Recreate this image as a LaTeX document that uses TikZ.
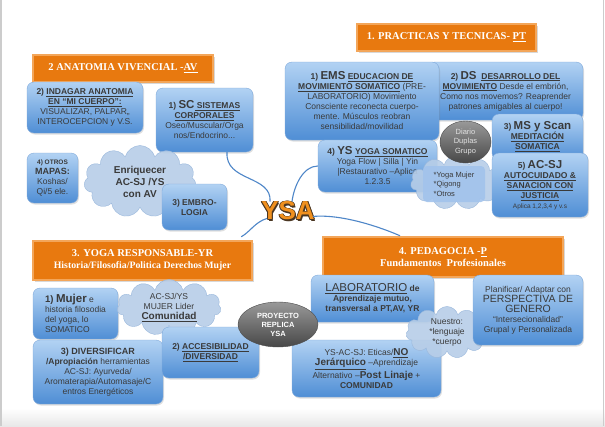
\documentclass[tikz,border=0pt]{standalone}
\usepackage{fontspec}
\setmainfont{Liberation Serif}
\setsansfont{Liberation Sans}
\usetikzlibrary{shapes.geometric,shapes.symbols,shadows}

\definecolor{boxtop}{HTML}{B2D2F3}
\definecolor{boxbot}{HTML}{4F8ED5}
\definecolor{boxedge}{HTML}{80AADB}
\definecolor{txtgray}{HTML}{3A3A3A}
\definecolor{hdrorange}{HTML}{E8790F}
\definecolor{hdrlight}{HTML}{F3A65A}
\definecolor{cloudfill}{HTML}{B8CEE8}
\definecolor{cloudedge}{HTML}{9AB8DC}
\definecolor{listblue}{HTML}{A2C3EC}
\definecolor{linkblue}{HTML}{4E86C8}
\definecolor{ysaorange}{HTML}{F0901E}
\definecolor{ysadark}{HTML}{4A3622}

\newcommand{\undl}[1]{\underline{#1}}
\newcommand{\bigtx}[1]{{\fontsize{11.5}{12}\selectfont\bfseries #1}}
\newcommand{\capbf}[1]{{\bfseries #1}}

\tikzset{
  blubox/.style={rectangle, rounded corners=7pt, top color=boxtop, bottom color=boxbot,
    draw=boxedge, line width=.4pt, text=txtgray, font=\sffamily\fontsize{8.5}{10}\selectfont,
    align=center, inner sep=1pt, drop shadow={opacity=.25,shadow xshift=1pt,shadow yshift=-1.5pt}},
  hdrbox/.style={rectangle, fill=hdrorange, draw=hdrlight, line width=2.5pt, text=white,
    font=\rmfamily\bfseries\fontsize{10.5}{12}\selectfont, align=center, inner sep=1pt,
    drop shadow={opacity=.3,shadow xshift=1.5pt,shadow yshift=-1.5pt}},
  puff/.style={cloud, cloud puffs=11, cloud ignores aspect, fill=cloudfill, draw=cloudedge, fill opacity=.9,
    text opacity=1, text=txtgray, font=\sffamily\fontsize{8.5}{10}\selectfont, align=center, inner sep=0pt},
  grayoval/.style={ellipse, top color=black!40, bottom color=black!72, draw=black!70, text=white,
    font=\sffamily\bfseries\fontsize{7.5}{9}\selectfont, align=center, inner sep=0pt},
  ysatxt/.style={inner sep=0pt, font=\sffamily\bfseries\fontsize{26}{26}\selectfont},
  link/.style={draw=linkblue, line width=1.1pt}
}

\begin{document}
\begin{tikzpicture}[x=1pt,y=-1pt]
\useasboundingbox (0,0) rectangle (605,426);

%Page
\fill[white] (0,0) rectangle (605,426);
\shade[top color=white, bottom color=black!9] (0,408) rectangle (605,426);
\draw[black!20, line width=1.5pt] (1,0) -- (1,426);
\draw[black!20, line width=1.5pt] (603.5,0) -- (603.5,426);

% Headers
\node[hdrbox, minimum width=179pt, minimum height=27pt] (hpt) at (446.5,37.5) {1. PRACTICAS Y TECNICAS- \undl{PT}};
\node[hdrbox, minimum width=180pt, minimum height=27pt] (hav) at (123,68.5) {2 ANATOMIA VIVENCIAL -\undl{AV}};
\node[hdrbox, minimum width=219pt, minimum height=39pt] (hyr) at (142.5,260.5) {3. YOGA RESPONSABLE-YR\\{\fontsize{9.8}{12}\selectfont Historia/Filosofia/Politica Derechos Mujer}};
\node[hdrbox, minimum width=240pt, minimum height=40pt] (hp) at (443,257) {4. PEDAGOCIA -\undl{P}\\Fundamentos\ \ Profesionales};

%Practicas y tecnicas
\node[blubox, minimum width=155pt, minimum height=58pt] (pt2) at (505.5,91) {\capbf{2)} \bigtx{DS}\ \ \capbf{\undl{DESARROLLO DEL}}\\\capbf{\undl{MOVIMIENTO}} Desde el embrión,\\Como nos movemos? Reaprender\\patrones amigables al cuerpo!};
\node[blubox, minimum width=154pt, minimum height=78pt] (pt1) at (362,101) {\capbf{1)} \bigtx{EMS} \capbf{\undl{EDUCACION DE}}\\\capbf{\undl{MOVIMIENTO SOMATICO}} (PRE-\\LABORATORIO) Movimiento\\Consciente reconecta cuerpo-\\mente. Músculos reobran\\sensibilidad/movilidad};
\node[blubox, minimum width=119pt, minimum height=52pt] (pt4) at (377.5,166) {\capbf{4)} \bigtx{YS} \capbf{\undl{YOGA SOMATICO}}\\Yoga Flow | Silla | Yin\\|Restaurativo –Aplica\\1.2.3.5};
\node[puff, minimum width=92pt, minimum height=54pt] (nubept) at (456.5,182.5) {};
\node[rectangle, rounded corners=4pt, fill=listblue, fill opacity=.9, text opacity=1, text=txtgray, align=left,
  font=\sffamily\fontsize{7.5}{9.5}\selectfont, minimum width=62pt, minimum height=36pt] (listapt) at (454,184) {*Yoga Mujer\\*Qigong\\*Otros};
\node[grayoval, minimum width=51pt, minimum height=42pt, font=\sffamily\fontsize{7.5}{9.5}\selectfont, text=white!88!black] (diario) at (465.5,142) {Diario\\Duplas\\Grupo};
\node[blubox, minimum width=91pt, minimum height=46pt] (pt3) at (537.5,137) {\capbf{3)} \bigtx{MS y Scan}\\\capbf{\undl{MEDITACIÓN}}\\\capbf{\undl{SOMATICA}}};
\node[blubox, minimum width=96pt, minimum height=64pt] (pt5) at (540,185) {\capbf{5)} \bigtx{AC-SJ}\\\capbf{\undl{AUTOCUIDADO \&}}\\\capbf{\undl{SANACION CON}}\\\capbf{\undl{JUSTICIA}}\\{\fontsize{6.5}{8}\selectfont Aplica 1,2,3,4 y v.s}};

%Anatomia vivencial
\node[blubox, minimum width=116pt, minimum height=51pt] (av2) at (85,107.5) {\capbf{2)} \capbf{\undl{INDAGAR ANATOMIA}}\\\capbf{\undl{EN “MI CUERPO”:}}\\VISUALIZAR, PALPAR,,\\INTEROCEPCION y V.S.};
\node[blubox, minimum width=97pt, minimum height=64pt] (av1) at (204.5,120) {\capbf{1)} \bigtx{SC}\capbf{\undl{\ SISTEMAS}}\\\capbf{\undl{CORPORALES}}\\Oseo/Muscular/Orga\\nos/Endocrino...};
\node[puff, minimum width=112pt, minimum height=72pt, font=\sffamily\bfseries\fontsize{10}{12}\selectfont] (nubeav) at (140,181.5) {Enriquecer\\AC-SJ /YS\\con AV};
\node[blubox, minimum width=51pt, minimum height=50pt] (av4) at (52.5,178) {{\bfseries\fontsize{6.5}{8}\selectfont 4) OTROS}\\{\bfseries\fontsize{9}{10}\selectfont MAPAS:}\\Koshas/\\Qi/5 ele.};
\node[blubox, minimum width=65pt, minimum height=46pt] (av3) at (194.5,207) {\capbf{3) EMBRO-}\\\capbf{LOGIA}};

%Yoga responsable
\node[blubox, minimum width=85pt, minimum height=51pt, align=left] (yr1) at (75.5,313.5) {{\bfseries\fontsize{9.5}{11}\selectfont 1) \fontsize{11.5}{12}\selectfont Mujer} e\\historia filosodia\\del yoga, lo\\SOMATICO};
\node[blubox, minimum width=130pt, minimum height=64pt] (yr3) at (98,372) {{\bfseries\fontsize{9}{10}\selectfont 3) DIVERSIFICAR}\\\capbf{/Apropiación} herramientas\\AC-SJ: Ayurveda/\\Aromaterapia/Automasaje/C\\entros Energéticos};
\node[puff, minimum width=104pt, minimum height=56pt] (nubeyr) at (169,307.5) {AC-SJ/YS\\MUJER Lider\\{\bfseries\fontsize{10}{12}\selectfont\undl{Comunidad}}};
\node[blubox, minimum width=97pt, minimum height=51pt] (yr2) at (210.5,352.5) {\capbf{2)} \capbf{\undl{ACCESIBILIDAD}}\\\capbf{\undl{/DIVERSIDAD}}};

%Pedagogia
\node[blubox, minimum width=123pt, minimum height=47pt] (p1) at (372.5,298.5) {{\fontsize{11.5}{13}\selectfont\undl{LABORATORIO}} \capbf{de}\\\capbf{Aprendizaje mutuo,}\\\capbf{transversal a PT,AV, YR}};
\node[blubox, minimum width=149pt, minimum height=57pt] (p3) at (366.5,368.5) {YS-AC-SJ: Eticas/{\bfseries\fontsize{10}{11}\selectfont\undl{NO}}\\{\bfseries\fontsize{10}{11}\selectfont\undl{Jerárquico}} –Aprendizaje\\Alternativo –{\bfseries\fontsize{10}{11}\selectfont Post Linaje} +\\\capbf{COMUNIDAD}};
\node[puff, minimum width=82pt, minimum height=52pt] (nubep) at (447,332.5) {Nuestro:\\*lenguaje\\*cuerpo};
\node[blubox, minimum width=110pt, minimum height=70pt] (p2) at (528,310) {Planificar/ Adaptar con\\{\fontsize{10.5}{12}\selectfont PERSPECTIVA DE}\\{\fontsize{10.5}{12}\selectfont GENERO}\\“Intersecionalidad”\\Grupal y Personalizada};
\node[grayoval, minimum width=80pt, minimum height=45pt] (replica) at (278,324.5) {PROYECTO\\REPLICA\\YSA};

% Centre
\foreach \dx/\dy [count=\k] in {.8/0,-.8/0,0/.8,0/-.8,.6/.6,-.6/.6,.6/-.6,-.6/-.6,1.2/-1.2}
  \node[ysatxt, text=ysadark, xshift=\dx pt, yshift=\dy pt] (ysash\k) at (288,211) {YSA};
\node[ysatxt, text=ysaorange] (ysa) at (288,211) {YSA};

%Links
\draw[link] ([xshift=22.5pt]av1.south) .. controls (225,182) and (272,175) .. ([xshift=9pt]ysa.north west);
\draw[link] (pt4.west) .. controls (303,166) and (294,186) .. ([xshift=4pt]ysa.north);
\draw[link] ([xshift=6pt,yshift=2pt]ysa.south west) .. controls (255,222) and (250,232) .. ([xshift=-12pt,yshift=3pt]hyr.north east);
\draw[link] ([xshift=-2pt,yshift=4pt]ysa.south east) .. controls (342,214) and (380,227) .. ([xshift=-43pt]hp.north);

\end{tikzpicture}
\end{document}
